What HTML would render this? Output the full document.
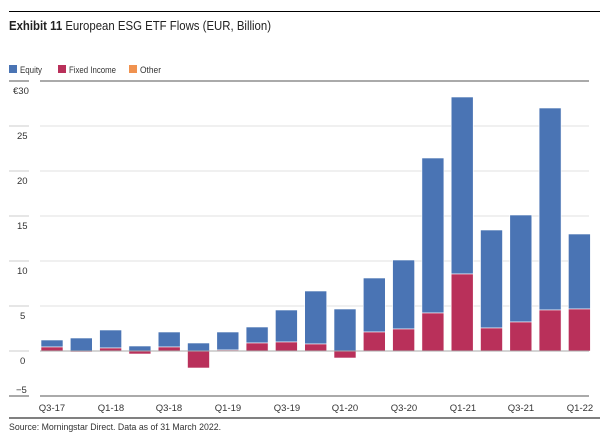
<!DOCTYPE html>
<html><head><meta charset="utf-8"><style>
body{margin:0;background:#fff;width:609px;height:440px;overflow:hidden;font-family:"Liberation Sans",sans-serif}
</style></head><body>
<svg width="609" height="440" xmlns="http://www.w3.org/2000/svg" font-family="Liberation Sans, sans-serif">
<line x1="9" y1="11.5" x2="600" y2="11.5" stroke="#000" stroke-width="1"/>
<text x="9" y="30" font-size="13" fill="#222" textLength="262" lengthAdjust="spacingAndGlyphs"><tspan font-weight="bold">Exhibit 11</tspan> European ESG ETF Flows (EUR, Billion)</text>
<rect x="9" y="65" width="8" height="8" fill="#4a74b4"/>
<text x="20" y="73" font-size="9.5" fill="#333" textLength="22" lengthAdjust="spacingAndGlyphs">Equity</text>
<rect x="58" y="65" width="8" height="8" fill="#b9305a"/>
<text x="69" y="73" font-size="9.5" fill="#333" textLength="47" lengthAdjust="spacingAndGlyphs">Fixed Income</text>
<rect x="129" y="65" width="8" height="8" fill="#f0924f"/>
<text x="140" y="73" font-size="9.5" fill="#333" textLength="21" lengthAdjust="spacingAndGlyphs">Other</text>
<g stroke="#e2e2e2" stroke-width="1">
<line x1="40" y1="126" x2="589" y2="126"/><line x1="40" y1="171" x2="589" y2="171"/>
<line x1="40" y1="216" x2="589" y2="216"/><line x1="40" y1="261" x2="589" y2="261"/>
<line x1="40" y1="306" x2="589" y2="306"/>
</g>
<g stroke="#ccc" stroke-width="1"><line x1="9" y1="126" x2="29" y2="126"/><line x1="9" y1="171" x2="29" y2="171"/><line x1="9" y1="216" x2="29" y2="216"/><line x1="9" y1="261" x2="29" y2="261"/><line x1="9" y1="306" x2="29" y2="306"/><line x1="9" y1="351" x2="29" y2="351"/></g>
<line x1="9" y1="81" x2="29" y2="81" stroke="#aaa" stroke-width="2"/>
<line x1="40" y1="81" x2="589" y2="81" stroke="#aaa" stroke-width="2"/>
<line x1="9" y1="396" x2="29" y2="396" stroke="#aaa" stroke-width="2"/>
<line x1="40" y1="396" x2="589" y2="396" stroke="#aaa" stroke-width="2"/>
<g font-size="9.5" fill="#333">
<text x="13" y="94">€30</text><text x="17" y="139">25</text><text x="17" y="184">20</text>
<text x="17" y="229">15</text><text x="17" y="274">10</text><text x="20" y="319">5</text>
<text x="20" y="364">0</text><text x="16" y="393">−5</text>
</g>
<g id="bars" stroke="#fff" stroke-width="0.6"></g>
<line x1="40" y1="351" x2="589" y2="351" stroke="#aaa" stroke-width="1"/>
<g font-size="9.5" fill="#333" text-anchor="middle">
<text x="52" y="411">Q3-17</text><text x="111" y="411">Q1-18</text><text x="169" y="411">Q3-18</text>
<text x="228" y="411">Q1-19</text><text x="287" y="411">Q3-19</text><text x="345" y="411">Q1-20</text>
<text x="404" y="411">Q3-20</text><text x="463" y="411">Q1-21</text><text x="521" y="411">Q3-21</text>
<text x="580" y="411">Q1-22</text>
</g>
<line x1="9" y1="418" x2="600" y2="418" stroke="#000" stroke-width="1"/>
<text x="9" y="430" font-size="9.5" fill="#333" textLength="212" lengthAdjust="spacingAndGlyphs">Source: Morningstar Direct. Data as of 31 March 2022.</text>
</svg>
<script>
var d=[[340,347],[338,352],[330,348],[346,354],[332,347],[343,368],[332,350],[327,343],[310,342],[291,344],[309,358],[278,332],[260,329],[158,313],[97,274],[230,328],[215,322],[108,310],[234,309]];
var g=document.getElementById('bars'),s='';
d.forEach(function(v,i){var x=41+i*29.3,t=v[0],r=v[1];
 if(r<=351){s+='<rect x="'+x+'" y="'+t+'" width="22" height="'+(r-t)+'" fill="#4a74b4"/><rect x="'+x+'" y="'+r+'" width="22" height="'+(351-r)+'" fill="#b9305a"/>';}
 else{s+='<rect x="'+x+'" y="'+t+'" width="22" height="'+(351-t)+'" fill="#4a74b4"/><rect x="'+x+'" y="351" width="22" height="'+(r-351)+'" fill="#b9305a"/>';}
});
g.innerHTML=s;
</script>
</body></html>
